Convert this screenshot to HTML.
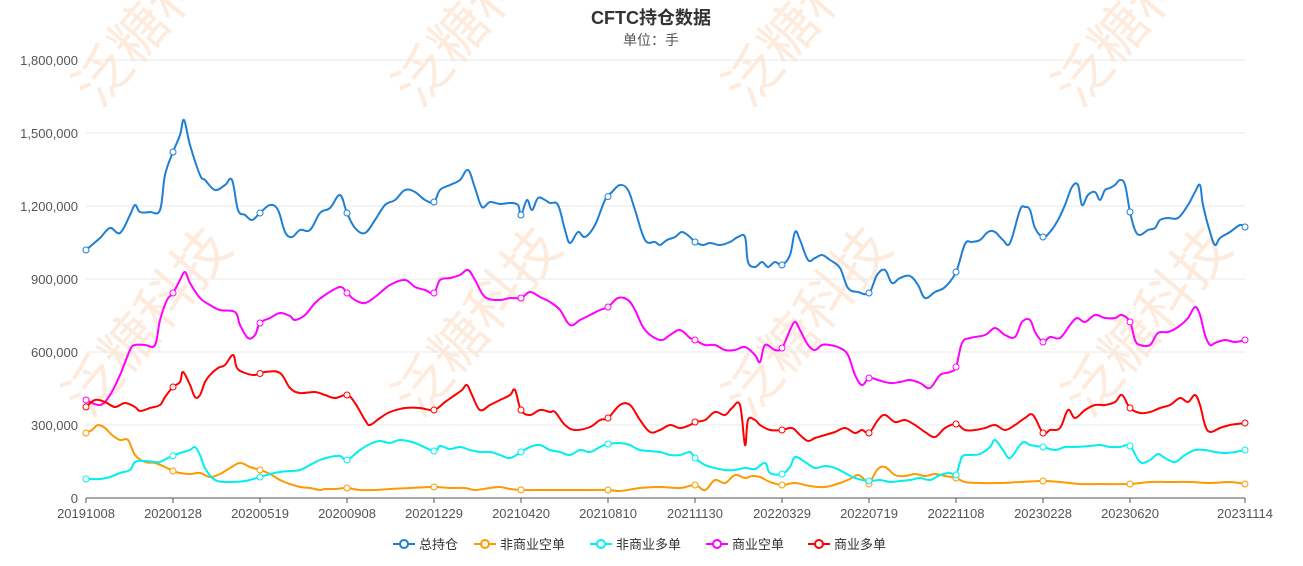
<!DOCTYPE html>
<html><head><meta charset="utf-8"><style>
body{margin:0;background:#fff;width:1303px;height:561px;overflow:hidden;font-family:"Liberation Sans","Noto Sans CJK SC",sans-serif}
</style></head><body>
<svg id="s" width="1303" height="561" xmlns="http://www.w3.org/2000/svg" font-family="Liberation Sans, Noto Sans CJK SC, sans-serif">
<g fill="#fde6d3" font-size="56" font-family="Noto Sans CJK SC, sans-serif" opacity="0.75">
<text transform="translate(100,110) rotate(-50)">泛糖科</text>
<text transform="translate(420,110) rotate(-50)">泛糖科</text>
<text transform="translate(750,110) rotate(-50)">泛糖科</text>
<text transform="translate(1080,110) rotate(-50)">泛糖科</text>
<text transform="translate(90,420) rotate(-50)">泛糖科技</text>
<text transform="translate(420,420) rotate(-50)">泛糖科技</text>
<text transform="translate(750,420) rotate(-50)">泛糖科技</text>
<text transform="translate(1090,420) rotate(-50)">泛糖科技</text>
</g>
<text x="651" y="24" text-anchor="middle" font-size="18" font-weight="bold" fill="#333">CFTC持仓数据</text>
<text x="651" y="45" text-anchor="middle" font-size="14" fill="#555">单位：手</text>
<g id="grid"></g>
<g id="lines" fill="none" stroke-width="2"></g>
<g id="mk"></g>
<g font-size="12" fill="#333" id="leg"></g>
</svg>
<script>
const S='http://www.w3.org/2000/svg';
function el(t,a,p,txt){const e=document.createElementNS(S,t);for(const k in a)e.setAttribute(k,a[k]);if(txt)e.textContent=txt;document.getElementById(p).appendChild(e);return e;}
const yl=['0','300,000','600,000','900,000','1,200,000','1,500,000','1,800,000'];
for(let i=0;i<7;i++){const y=498-i*73;if(i>0)el('line',{x1:86,x2:1245,y1:y,y2:y,stroke:'#e8e8e8'},'grid');el('text',{x:78,y:y+5,'text-anchor':'end','font-size':13,fill:'#555'},'grid',yl[i]);}
el('line',{x1:86,x2:1245,y1:498,y2:498,stroke:'#555'},'grid');
const xl=[[86,'20191008'],[173,'20200128'],[260,'20200519'],[347,'20200908'],[434,'20201229'],[521,'20210420'],[608,'20210810'],[695,'20211130'],[782,'20220329'],[869,'20220719'],[956,'20221108'],[1043,'20230228'],[1130,'20230620'],[1245,'20231114']];
xl.forEach(([x,t])=>{el('line',{x1:x,x2:x,y1:498,y2:503,stroke:'#555'},'grid');el('text',{x:x,y:518,'text-anchor':'middle','font-size':13,fill:'#555'},'grid',t);});
function P(s){return s.match(/-?\d+/g).map(Number).reduce((a,v,i)=>{if(i%2==0)a.push([v]);else a[a.length-1].push(v);return a;},[]);}
const D={
'#1f7fd4':P(`(86,250),(100,238),(110,228),(120,233),(130,215),(135,205),(140,212),(150,212),(160,210),(165,175),(173,152),(180,135),(184,120),(190,145),(200,175),(205,180),(215,190),(225,185),(232,180),(238,210),(245,215),(252,220),(260,213),(270,205),(278,210),(285,232),(292,237),(300,230),(310,230),(320,213),(330,208),(340,195),(347,213),(355,228),(365,233),(375,220),(385,205),(395,200),(405,190),(415,192),(425,200),(434,202),(440,190),(450,185),(460,180),(468,170),(475,188),(482,207),(490,202),(500,204),(510,203),(518,205),(521,215),(527,200),(532,210),(538,198),(545,200),(550,203),(558,205),(565,230),(570,243),(578,232),(585,237),(595,225),(605,200),(612,192),(620,185),(628,190),(635,210),(645,240),(655,242),(660,245),(667,240),(675,237),(682,232),(690,237),(695,242),(703,245),(710,243),(720,245),(730,242),(738,237),(745,237),(748,262),(755,267),(762,262),(768,267),(775,262),(782,265),(790,255),(795,232),(800,240),(808,260),(815,258),(822,255),(830,260),(840,268),(848,288),(858,292),(869,293),(877,275),(885,270),(892,283),(900,278),(910,276),(918,285),(925,298),(935,292),(945,287),(956,272),(965,244),(972,242),(980,240),(988,232),(995,232),(1003,240),(1010,243),(1020,210),(1025,207),(1030,210),(1035,228),(1043,237),(1050,232),(1058,220),(1065,205),(1072,187),(1078,185),(1082,205),(1088,195),(1095,192),(1100,200),(1105,190),(1110,188),(1115,185),(1120,180),(1125,185),(1130,212),(1135,230),(1140,235),(1148,230),(1155,228),(1160,220),(1168,218),(1178,218),(1188,205),(1195,192),(1200,185),(1203,205),(1210,232),(1215,245),(1220,238),(1230,232),(1240,225),(1245,227)`),
'#ff9900':P(`(86,433),(92,430),(98,425),(105,428),(112,435),(120,440),(128,440),(135,455),(145,462),(155,463),(165,467),(173,471),(180,473),(190,474),(200,473),(210,477),(220,474),(230,468),(240,463),(250,467),(260,470),(270,474),(280,480),(290,484),(300,487),(310,488),(320,490),(325,489),(335,489),(347,488),(360,490),(375,490),(390,489),(410,488),(434,487),(450,488),(465,488),(475,490),(490,488),(500,487),(510,489),(521,490),(540,490),(560,490),(580,490),(608,490),(620,491),(640,488),(660,487),(680,488),(695,485),(705,490),(715,480),(725,483),(735,475),(745,478),(752,476),(760,477),(770,482),(782,485),(795,483),(810,486),(825,487),(840,483),(850,479),(858,475),(865,480),(869,484),(877,470),(885,467),(895,475),(905,476),(915,474),(925,476),(935,474),(945,476),(956,478),(965,482),(980,483),(1000,483),(1020,482),(1043,481),(1060,482),(1080,484),(1100,484),(1130,484),(1150,482),(1170,482),(1190,482),(1210,483),(1230,482),(1245,484)`),
'#00f0f0':P(`(86,479),(100,479),(110,477),(120,473),(130,470),(135,462),(145,461),(155,462),(160,462),(170,457),(180,453),(190,450),(195,447),(200,455),(205,468),(215,480),(230,482),(245,481),(260,477),(270,474),(280,472),(290,471),(300,470),(310,465),(320,460),(330,457),(340,456),(347,460),(360,450),(370,444),(380,441),(390,443),(400,440),(415,443),(434,451),(440,446),(450,449),(460,447),(470,450),(480,452),(490,452),(500,455),(510,458),(521,452),(530,447),(540,445),(550,450),(560,452),(570,455),(580,450),(590,452),(600,447),(608,444),(620,443),(630,445),(640,450),(660,452),(670,455),(680,455),(690,452),(695,458),(705,465),(715,468),(725,470),(735,470),(745,468),(755,469),(765,463),(770,473),(782,474),(790,467),(795,457),(805,462),(815,468),(825,466),(835,468),(845,473),(855,478),(869,481),(880,480),(890,482),(900,481),(910,480),(920,478),(930,480),(940,475),(950,473),(956,475),(962,457),(970,455),(980,454),(990,447),(995,440),(1003,450),(1010,458),(1020,445),(1025,442),(1030,445),(1043,447),(1055,450),(1065,447),(1075,447),(1090,446),(1100,445),(1110,447),(1120,447),(1130,446),(1140,462),(1150,460),(1158,454),(1165,458),(1175,462),(1185,455),(1195,450),(1205,450),(1215,452),(1225,453),(1235,452),(1245,450)`),
'#ff00ff':P(`(86,400),(100,405),(110,395),(120,375),(130,350),(135,345),(145,345),(155,345),(160,320),(167,300),(173,293),(180,280),(185,272),(190,283),(200,298),(210,305),(220,310),(235,312),(240,325),(248,338),(255,335),(260,323),(270,318),(280,313),(290,316),(295,320),(305,315),(315,303),(325,295),(340,287),(347,293),(355,300),(365,303),(375,297),(390,285),(405,280),(415,287),(425,290),(434,293),(440,280),(450,278),(460,275),(468,270),(475,280),(485,297),(500,300),(510,298),(521,298),(530,292),(540,297),(550,302),(560,310),(570,325),(580,320),(590,315),(600,310),(608,307),(618,298),(628,300),(635,310),(645,330),(660,340),(670,335),(680,330),(690,338),(695,340),(705,345),(715,345),(725,350),(735,350),(745,347),(755,355),(760,362),(765,345),(775,350),(782,348),(790,330),(795,322),(800,330),(808,345),(815,350),(822,345),(830,345),(840,348),(848,355),(855,375),(862,385),(869,378),(878,380),(890,383),(900,382),(910,380),(920,383),(930,388),(940,375),(950,372),(956,367),(962,343),(970,338),(985,335),(995,328),(1005,335),(1015,337),(1022,322),(1030,320),(1035,332),(1043,342),(1050,337),(1060,338),(1070,325),(1077,318),(1085,322),(1095,315),(1105,318),(1115,318),(1122,315),(1130,322),(1135,340),(1140,345),(1150,345),(1158,333),(1168,332),(1178,327),(1188,318),(1195,307),(1200,315),(1205,335),(1210,345),(1215,343),(1225,340),(1235,342),(1245,340)`),
'#ff0000':P(`(86,407),(95,400),(105,402),(115,407),(125,403),(135,407),(140,411),(150,408),(160,405),(165,397),(173,387),(180,382),(183,372),(190,385),(195,397),(200,395),(205,382),(210,375),(218,368),(225,365),(233,355),(237,368),(245,373),(255,375),(265,372),(280,373),(290,388),(300,393),(315,392),(325,395),(335,398),(347,395),(355,403),(365,420),(370,425),(380,418),(390,412),(405,408),(420,408),(434,410),(445,402),(455,395),(462,390),(467,385),(472,395),(480,410),(490,405),(500,400),(510,395),(515,390),(521,410),(530,415),(540,410),(550,412),(555,412),(565,425),(575,430),(590,427),(600,420),(608,418),(620,405),(630,405),(640,420),(650,432),(660,430),(670,425),(680,428),(690,425),(695,422),(705,420),(715,412),(725,415),(732,408),(740,405),(745,445),(748,420),(755,420),(760,425),(770,430),(782,430),(792,428),(800,435),(808,441),(815,438),(825,435),(835,432),(845,428),(855,433),(862,430),(869,433),(878,420),(885,415),(895,422),(905,420),(915,425),(925,432),(935,437),(945,428),(956,424),(965,430),(975,430),(985,428),(995,425),(1005,430),(1015,425),(1025,418),(1033,415),(1043,433),(1050,430),(1060,428),(1068,410),(1075,418),(1085,410),(1095,405),(1105,405),(1115,402),(1122,395),(1130,408),(1140,413),(1150,412),(1160,408),(1170,405),(1180,398),(1188,402),(1195,395),(1200,405),(1205,425),(1210,432),(1220,428),(1230,425),(1245,423)`)};
function path(p){let d='M'+p[0][0]+','+p[0][1];for(let i=0;i<p.length-1;i++){const p0=p[Math.max(0,i-1)],p1=p[i],p2=p[i+1],p3=p[Math.min(p.length-1,i+2)];const t=0.18;d+=` C${p1[0]+(p2[0]-p0[0])*t},${p1[1]+(p2[1]-p0[1])*t} ${p2[0]-(p3[0]-p1[0])*t},${p2[1]-(p3[1]-p1[1])*t} ${p2[0]},${p2[1]}`;}return d;}
function yat(p,x){for(let i=0;i<p.length-1;i++){if(x>=p[i][0]&&x<=p[i+1][0]){const f=(x-p[i][0])/((p[i+1][0]-p[i][0])||1);return p[i][1]+f*(p[i+1][1]-p[i][1]);}}return p[p.length-1][1];}
for(const c in D){el('path',{d:path(D[c]),stroke:c},'lines');xl.forEach(([x])=>el('circle',{cx:x,cy:yat(D[c],x),r:3,fill:'#fff',stroke:c,'stroke-width':1},'mk'));}
const lg=[['#1f7fd4','总持仓',393],['#ff9900','非商业空单',474],['#00f0f0','非商业多单',590],['#ff00ff','商业空单',706],['#ff0000','商业多单',808]];
lg.forEach(([c,t,x])=>{el('line',{x1:x,x2:x+22,y1:544,y2:544,stroke:c,'stroke-width':2},'leg');el('circle',{cx:x+11,cy:544,r:4,fill:'#fff',stroke:c,'stroke-width':2},'leg');el('text',{x:x+26,y:549,'font-size':13,fill:'#333'},'leg',t);});
</script>
</body></html>
